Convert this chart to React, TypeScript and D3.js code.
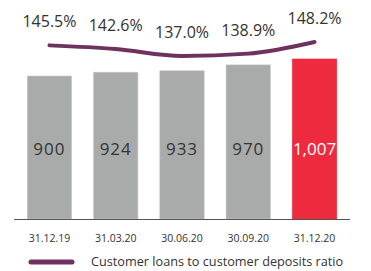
import { useEffect, useRef } from 'react';
import * as d3 from 'd3';

const categories = ['31.12.19', '31.03.20', '30.06.20', '30.09.20', '31.12.20'];
const loans = [900, 924, 933, 970, 1007];
const loanLabels = ['900', '924', '933', '970', '1,007'];
const ratios = [145.5, 142.6, 137.0, 138.9, 148.2];
const legendLabel = 'Customer loans to customer deposits ratio';

const width = 371;
const height = 271;

const App = () => {
  const svgRef = useRef<SVGSVGElement | null>(null);

  useEffect(() => {
    const svg = d3.select(svgRef.current);
    svg.selectAll('*').remove();

    const font = '"Open Sans", "Noto Sans", sans-serif';
    const baseline = 219;

    // x band for bars
    const x = d3.scaleBand<string>()
      .domain(categories)
      .range([14, 350])
      .paddingInner(0.33)
      .paddingOuter(0.2);

    const y = d3.scaleLinear().domain([0, 1007]).range([baseline, 59]);
    const yRatio = d3.scaleLinear().domain([137, 148.2]).range([56, 42]);

    const data = categories.map((c, i) => ({
      cat: c, value: loans[i], label: loanLabels[i], ratio: ratios[i],
    }));
    const last = data.length - 1;

    // bars
    svg.selectAll('.bar')
      .data(data)
      .enter()
      .append('rect')
      .attr('x', d => x(d.cat)!)
      .attr('y', d => y(d.value))
      .attr('width', x.bandwidth())
      .attr('height', d => baseline - y(d.value))
      .attr('fill', (d, i) => (i === last ? '#ee2a3f' : '#a8abaa'))
      .attr('stroke', (d, i) => (i === last ? '#ee2a3f' : '#c9cbca'))
      .attr('stroke-width', 0.6);

    // values in bars
    svg.selectAll('.val')
      .data(data)
      .enter()
      .append('text')
      .attr('x', d => x(d.cat)! + x.bandwidth() / 2)
      .attr('y', 155)
      .attr('text-anchor', 'middle')
      .attr('font-family', font)
      .attr('font-size', 17)
      .attr('letter-spacing', (d, i) => (i === last ? 0 : 1))
      .attr('fill', (d, i) => (i === last ? '#ffffff' : '#333333'))
      .text(d => d.label);

    // axis line
    svg.append('line')
      .attr('x1', 14).attr('x2', 350)
      .attr('y1', baseline + 0.5).attr('y2', baseline + 0.5)
      .attr('stroke', '#555').attr('stroke-width', 1);

    // category labels
    svg.selectAll('.cat')
      .data(data)
      .enter()
      .append('text')
      .attr('x', d => x(d.cat)! + x.bandwidth() / 2)
      .attr('y', 241.5)
      .attr('text-anchor', 'middle')
      .attr('font-family', font)
      .attr('font-size', 10.5)
      .attr('fill', '#333')
      .text(d => d.cat);

    // ratio line
    const line = d3.line<typeof data[0]>()
      .x(d => x(d.cat)! + x.bandwidth() / 2)
      .y(d => yRatio(d.ratio))
      .curve(d3.curveMonotoneX);

    svg.append('path')
      .datum(data)
      .attr('d', line)
      .attr('fill', 'none')
      .attr('stroke', '#6d3260')
      .attr('stroke-width', 4)
      .attr('stroke-linecap', 'round');

    // ratio labels
    svg.selectAll('.ratio')
      .data(data)
      .enter()
      .append('text')
      .attr('x', d => x(d.cat)! + x.bandwidth() / 2)
      .attr('y', d => yRatio(d.ratio) - 18)
      .attr('text-anchor', 'middle')
      .attr('font-family', font)
      .attr('font-size', 16)
      .attr('fill', '#333')
      .text(d => d.ratio.toFixed(1) + '%');

    // legend
    svg.append('line')
      .attr('x1', 31).attr('x2', 72)
      .attr('y1', 262).attr('y2', 262)
      .attr('stroke', '#6d3260')
      .attr('stroke-width', 5)
      .attr('stroke-linecap', 'round');

    svg.append('text')
      .attr('x', 91)
      .attr('y', 266)
      .attr('font-family', font)
      .attr('font-size', 12.7)
      .attr('fill', '#333')
      .text(legendLabel);
  }, []);

  return (
    <svg
      ref={svgRef}
      width={width}
      height={height}
      style={{ position: 'absolute', left: 0, top: 0, background: '#fff' }}
    />
  );
};

export default App;
